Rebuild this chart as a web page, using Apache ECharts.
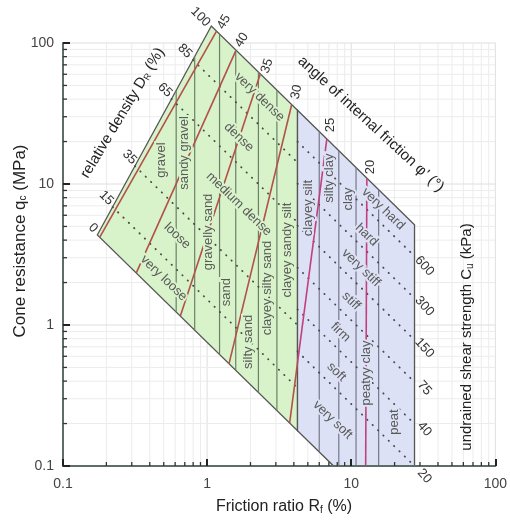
<!DOCTYPE html>
<html>
<head>
<meta charset="utf-8">
<title>CPT soil classification chart</title>
<script src="https://cdn.jsdelivr.net/npm/echarts@6.0.0/dist/echarts.min.js"></script>
<style>
  html, body { margin: 0; padding: 0; background: #fff; }
  #chart { width: 510px; height: 521px; }
</style>
</head>
<body>
<div id="chart"></div>
<script>
// ---------------- chart data (Rf in %, qc in MPa) ----------------
const xTicks = [0.1, 1, 10, 100];
const yTicks = [0.1, 1, 10, 100];

// outline of the granular (green) and cohesive (blue) zones
const granularZone = [[0.173, 4.35], [1.07, 132], [4.24, 33.3], [4.24, 0.178]];
const cohesiveZone = [[4.24, 33.3], [27.5, 5.13], [27.5, 0.1], [7.55, 0.1], [4.24, 0.178]];

// soil-type boundaries: friction ratio and the qc range each one spans
const dividerRf     = [0.61, 0.82, 1.22, 1.58, 2.27, 3.05, 6.0, 8.2, 10.8, 15.5];
const dividerTop    = [46.1, 80.2, 115.6, 89.2, 62.1, 46.2, 23.5, 17.2, 13.1, 9.1];
const dividerBottom = [1.24, 0.921, 0.619, 0.478, 0.333, 0.248, 0.126, 0.1, 0.1, 0.1];
const soilTypes = ['gravel', 'sandy gravel', 'gravelly sand', 'sand', 'silty sand',
  'clayey silty sand', 'clayey sandy silt', 'clayey silt', 'silty clay', 'clay',
  'peatyy clay', 'peat'];

// relative density Dr (%) contours in the granular zone
const densityLevels = [100, 85, 65, 35, 15, 0];
const densityStart = [[0.798, 75.7], [0.566, 40.1], [0.3155, 13.4], [0.221, 6.87]];
const densityEnd   = [[4.24, 14.2], [4.24, 5.35], [4.24, 1.0], [4.24, 0.358]];
const densityClasses = ['very dense', 'dense', 'medium dense', 'loose', 'very loose'];

// angle of internal friction (degrees)
const frictionAngles = [45, 40, 35, 30, 25, 20];
const frictionTop    = [[1.16, 121], [1.58, 88], [2.34, 60.2], [3.86, 36.5], [6.77, 20.8], [12.84, 11]];
const frictionBottom = [[0.18, 4.2], [0.3225, 2.34], [0.652, 1.158], [1.42, 0.532], [3.74, 0.202], [12.6, 0.1]];

// undrained shear strength Cu (kPa) contours in the cohesive zone
const cuLevels = [600, 300, 150, 75, 40, 20];
const cuStart = [[4.24, 20.0], [4.24, 10.07], [4.24, 5.07], [4.24, 2.55], [4.24, 1.29], [4.24, 0.649]];
const cuEnd   = [[27.5, 3.08], [27.5, 1.55], [27.5, 0.783], [27.5, 0.394], [27.5, 0.199], [27.5, 0.1]];
const consistencyClasses = ['very hard', 'hard', 'very stiff', 'stiff', 'firm', 'soft', 'very soft'];

// ---------------- label placement ----------------
const soilTypeAt = [[0.48, 14.8], [0.70, 16.6], [1.02, 4.57], [1.36, 1.71], [1.94, 0.76],
  [2.61, 1.83], [3.62, 3.4], [5.03, 6.76], [7.1, 11.0], [9.54, 7.83], [12.8, 0.457], [19.9, 0.205]];
const densityClassAt = [[2.31, 41.4], [1.66, 21.5], [1.66, 7.21], [0.62, 4.28], [0.50, 2.15]];
const consistencyAt = [[16.7, 6.65], [12.8, 4.35], [11.7, 2.54], [10, 1.48], [8.42, 0.89], [7.9, 0.465], [7.43, 0.212]];
const densityLevelAt = [[0.90, 153], [0.70, 87.8], [0.51, 46.4], [0.29, 15.5], [0.20, 7.96], [0.162, 4.87]];
const frictionLevelAt = [[1.31, 141], [1.74, 105], [2.61, 68.7], [4.17, 44.9], [7.2, 26.2], [13.5, 13.2]];
const frictionLevelRot = [60, 58, 72, 78, 90, 90];
const cuLevelAt = [[32.2, 2.62], [32.2, 1.36], [32.2, 0.687], [32.2, 0.357], [32.2, 0.183], [32.2, 0.0849]];

// ---------------- styling ----------------
const FONT = '"Liberation Sans", Arial, Helvetica, sans-serif';
const GREEN = '#d8f3c9';
const BLUE = '#dde1f5';
const RED = '#b3504b';
const MAGENTA = '#c1417f';
const OUTLINE = '#555';
const zoneSplitRf = granularZone[2][0];

const gridSteps = [1, 2, 3, 4, 5, 6, 7, 8, 9];
const gridValues = [];
xTicks.slice(0, -1).forEach(d => gridSteps.forEach(s => gridValues.push(+(d * s).toPrecision(3))));
gridValues.push(xTicks[xTicks.length - 1]);
const minorValues = gridValues.filter(v => xTicks.indexOf(v) < 0);

function seg(p, q, style) {
  return { type: 'line', shape: { x1: p[0], y1: p[1], x2: q[0], y2: q[1] }, style };
}

// background grid (vertical: orient 0, horizontal: orient 1)
const gridSeries = {
  type: 'custom', z: 1, silent: true,
  data: gridValues.map(v => [v, 1, 0]).concat(gridValues.map(v => [1, v, 1])),
  renderItem(params, api) {
    const orient = api.value(2);
    const v = orient === 0 ? api.value(0) : api.value(1);
    const major = xTicks.indexOf(v) >= 0;
    const a = orient === 0 ? api.coord([v, 0.1]) : api.coord([0.1, v]);
    const b = orient === 0 ? api.coord([v, 100]) : api.coord([100, v]);
    return seg(a, b, { stroke: major ? '#dedede' : '#ececec', lineWidth: 1 });
  }
};

// short minor ticks pointing into the plot
const minorTickSeries = {
  type: 'custom', z: 12, silent: true,
  data: minorValues.map(v => [v, 1, 0]).concat(minorValues.map(v => [1, v, 1])),
  renderItem(params, api) {
    const orient = api.value(2);
    if (orient === 0) {
      const p = api.coord([api.value(0), 0.1]);
      return seg([p[0], p[1]], [p[0], p[1] - 4], { stroke: '#333', lineWidth: 1.3 });
    }
    const p = api.coord([0.1, api.value(1)]);
    return seg([p[0], p[1]], [p[0] + 4, p[1]], { stroke: '#333', lineWidth: 1.3 });
  }
};

const zoneSeries = {
  type: 'custom', z: 2, silent: true,
  data: [granularZone[0], cohesiveZone[0]],
  renderItem(params, api) {
    const zone = params.dataIndex === 0 ? granularZone : cohesiveZone;
    return {
      type: 'polygon',
      shape: { points: zone.map(p => api.coord(p)) },
      style: { fill: params.dataIndex === 0 ? GREEN : BLUE, stroke: OUTLINE, lineWidth: 1.3, lineJoin: 'miter' }
    };
  }
};

const dividerSeries = {
  type: 'custom', z: 3, silent: true,
  data: dividerRf.map((rf, i) => [rf, dividerTop[i], dividerBottom[i]]),
  renderItem(params, api) {
    const rf = api.value(0);
    const a = api.coord([rf, api.value(1)]);
    const b = api.coord([rf, api.value(2)]);
    return seg(a, b, { stroke: rf < zoneSplitRf ? '#6d7f6b' : '#76778a', lineWidth: 1.2 });
  }
};

function dottedSeries(starts, ends) {
  return {
    type: 'custom', z: 4, silent: true,
    data: starts.map((p, i) => [p[0], p[1], ends[i][0], ends[i][1]]),
    renderItem(params, api) {
      const a = api.coord([api.value(0), api.value(1)]);
      const b = api.coord([api.value(2), api.value(3)]);
      return seg(a, b, { stroke: '#4a4a4a', lineWidth: 1.8, lineDash: [0.4, 7.1], lineCap: 'round' });
    }
  };
}

const frictionSeries = {
  type: 'custom', z: 5, silent: true,
  data: frictionTop.map((p, i) => [p[0], p[1], frictionBottom[i][0], frictionBottom[i][1]]),
  renderItem(params, api) {
    const a = api.coord([api.value(0), api.value(1)]);
    const b = api.coord([api.value(2), api.value(3)]);
    const xs = api.coord([zoneSplitRf, 1])[0];
    const colorOf = p => (p[0] > xs ? MAGENTA : RED);
    const st = c => ({ stroke: c, lineWidth: 1.6 });
    if ((a[0] - xs) * (b[0] - xs) < 0) {
      const t = (xs - a[0]) / (b[0] - a[0]);
      const m = [xs, a[1] + t * (b[1] - a[1])];
      return { type: 'group', children: [seg(a, m, st(colorOf(a))), seg(m, b, st(colorOf(b)))] };
    }
    return seg(a, b, st(colorOf(a)));
  }
};

function labelSeries(anchors, texts, rotation, opt) {
  return {
    type: 'custom', z: 6, silent: true,
    data: anchors,
    renderItem(params, api) {
      const i = params.dataIndex;
      const rf = api.value(0);
      const p = api.coord([rf, api.value(1)]);
      const rot = Array.isArray(rotation) ? rotation[i] : rotation;
      const style = {
        text: String(texts[i]), fill: opt.color, fontSize: opt.size, fontFamily: FONT,
        align: 'center', verticalAlign: 'middle'
      };
      if (opt.halo) {
        style.stroke = rf < zoneSplitRf ? GREEN : BLUE;
        style.lineWidth = 4;
      }
      return { type: 'text', x: p[0], y: p[1], rotation: rot * Math.PI / 180, style };
    }
  };
}

const titleRich = { sub: { fontSize: 10, padding: [7, 0, 0, 0] } };

const option = {
  animation: false,
  backgroundColor: '#fff',
  grid: { left: 63, right: 5, top: 43, bottom: 55 },
  xAxis: {
    type: 'log', logBase: 10, min: 0.1, max: 100, z: 10,
    axisLine: { show: true, onZero: false, lineStyle: { color: '#5f6c6c', width: 2 } },
    axisTick: { show: true, inside: true, length: 7, lineStyle: { color: '#222', width: 2 } },
    axisLabel: { color: '#444', fontSize: 14, fontFamily: FONT, margin: 11 },
    splitLine: { show: false }
  },
  yAxis: {
    type: 'log', logBase: 10, min: 0.1, max: 100, z: 10,
    axisLine: { show: true, onZero: false, lineStyle: { color: '#5f6c6c', width: 2 } },
    axisTick: { show: true, inside: true, length: 7, lineStyle: { color: '#222', width: 2 } },
    axisLabel: { color: '#444', fontSize: 14, fontFamily: FONT, margin: 9 },
    splitLine: { show: false }
  },
  graphic: [
    {
      type: 'text', x: 20, y: 241, rotation: Math.PI / 2, z: 100,
      style: {
        text: 'Cone resistance q{sub|c} (MPa)', rich: titleRich, fill: '#222',
        fontSize: 17, fontFamily: FONT, align: 'center', verticalAlign: 'middle'
      }
    },
    {
      type: 'text', x: 284, y: 507, z: 100,
      style: {
        text: 'Friction ratio R{sub|f} (%)', rich: titleRich, fill: '#222',
        fontSize: 16, fontFamily: FONT, align: 'center', verticalAlign: 'middle'
      }
    },
    {
      type: 'text', x: 467, y: 337, rotation: Math.PI / 2, z: 100,
      style: {
        text: 'undrained shear strength C{sub|u} (kPa)', rich: titleRich, fill: '#222',
        fontSize: 15, fontFamily: FONT, align: 'center', verticalAlign: 'middle'
      }
    }
  ],
  series: [
    gridSeries,
    zoneSeries,
    dividerSeries,
    dottedSeries(densityStart, densityEnd),
    dottedSeries(cuStart, cuEnd),
    frictionSeries,
    labelSeries(soilTypeAt, soilTypes, 90, { color: '#5a5a5a', size: 13, halo: true }),
    labelSeries(densityClassAt, densityClasses, -44, { color: '#5a5a5a', size: 13, halo: true }),
    labelSeries(consistencyAt, consistencyClasses, -44, { color: '#5a5a5a', size: 13, halo: true }),
    labelSeries(densityLevelAt, densityLevels, -45, { color: '#333', size: 13 }),
    labelSeries(frictionLevelAt, frictionAngles, frictionLevelRot, { color: '#333', size: 13 }),
    labelSeries(cuLevelAt, cuLevels, -48, { color: '#333', size: 13 }),
    {
      type: 'custom', z: 6, silent: true,
      data: [[0.2593, 31.9], [13.67, 26.6]],
      renderItem(params, api) {
        const p = api.coord([api.value(0), api.value(1)]);
        const first = params.dataIndex === 0;
        return {
          type: 'text', x: p[0], y: p[1],
          rotation: (first ? 59 : -42.6) * Math.PI / 180,
          style: {
            text: first ? 'relative density D{sub|R} (%)' : 'angle of internal friction \u03c6\u2019 (\u00b0)',
            rich: { sub: { fontSize: 9, padding: [6, 0, 0, 0] } },
            fill: '#222', fontSize: 15, fontFamily: FONT, align: 'center', verticalAlign: 'middle'
          }
        };
      }
    },
    minorTickSeries
  ]
};

const chart = echarts.init(document.getElementById('chart'), null, { renderer: 'canvas' });
chart.setOption(option);
</script>
</body>
</html>
